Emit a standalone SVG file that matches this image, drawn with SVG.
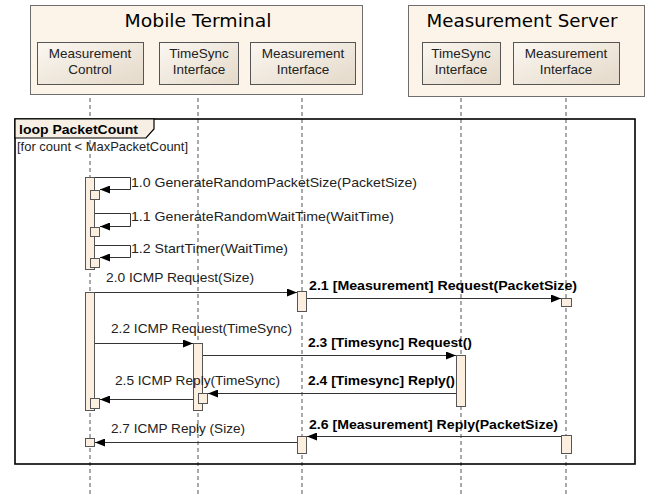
<svg xmlns="http://www.w3.org/2000/svg" width="647" height="495" viewBox="0 0 647 495">
<defs>
<linearGradient id="boxg" x1="0" y1="0" x2="1" y2="1">
<stop offset="0" stop-color="#fbf7f1"/>
<stop offset="1" stop-color="#e4d9c9"/>
</linearGradient>
<marker id="ah" viewBox="0 0 10 8" refX="10" refY="4" markerWidth="10" markerHeight="8" markerUnits="userSpaceOnUse" orient="auto">
<path d="M0,0 L10,4 L0,8 Z" fill="#000"/>
</marker>
</defs>
<style>
.cont{fill:#fcf4e8;stroke:#6e6e6e;stroke-width:1}
.box{fill:url(#boxg);stroke:#555;stroke-width:1}
.life{stroke:#555;stroke-width:1;stroke-dasharray:4 3;fill:none}
.act{fill:#fcefe0;stroke:#555;stroke-width:1}
.msg{stroke:#333;stroke-width:1;fill:none}
.arr{marker-end:url(#ah)}
.t{font-family:"Liberation Sans",Arial,sans-serif;font-size:13.5px;fill:#222}
.tb{font-family:"Liberation Sans",Arial,sans-serif;font-size:13.5px;font-weight:bold;fill:#000}
.h{font-family:"DejaVu Sans",Verdana,sans-serif;font-size:17.5px;fill:#000}
.c{text-anchor:middle}
</style>
<rect width="647" height="495" fill="#fff"/>

<g id="lifelines">
<line class="life" x1="90" y1="84" x2="90" y2="495"/>
<line class="life" x1="198" y1="84" x2="198" y2="495"/>
<line class="life" x1="302" y1="84" x2="302" y2="495"/>
<line class="life" x1="461" y1="84" x2="461" y2="495"/>
<line class="life" x1="566" y1="84" x2="566" y2="495"/>
</g>

<g id="mobile-terminal">
<rect class="cont" x="30.5" y="5.5" width="332" height="89"/>
<text class="h c" x="198" y="27" textLength="147" lengthAdjust="spacingAndGlyphs">Mobile Terminal</text>
</g>
<g id="measurement-server">
<rect class="cont" x="408.5" y="5.5" width="236" height="91"/>
<text class="h c" x="522" y="27" textLength="191" lengthAdjust="spacingAndGlyphs">Measurement Server</text>
</g>

<g id="mt-measurement-control">
<rect class="box" x="37.5" y="42.5" width="106" height="42"/>
<text class="t c" x="90" y="58">Measurement</text>
<text class="t c" x="90" y="74">Control</text>
</g>
<g id="mt-timesync-interface">
<rect class="box" x="159.5" y="42.5" width="79" height="42"/>
<text class="t c" x="199" y="58">TimeSync</text>
<text class="t c" x="199" y="74">Interface</text>
</g>
<g id="mt-measurement-interface">
<rect class="box" x="250.5" y="42.5" width="105" height="42"/>
<text class="t c" x="303" y="58">Measurement</text>
<text class="t c" x="303" y="74">Interface</text>
</g>
<g id="ms-timesync-interface">
<rect class="box" x="422.5" y="42.5" width="78" height="42"/>
<text class="t c" x="461" y="58">TimeSync</text>
<text class="t c" x="461" y="74">Interface</text>
</g>
<g id="ms-measurement-interface">
<rect class="box" x="513.5" y="42.5" width="106" height="42"/>
<text class="t c" x="566" y="58">Measurement</text>
<text class="t c" x="566" y="74">Interface</text>
</g>

<g id="loop-frame">
<rect x="15" y="119" width="620" height="345" fill="none" stroke="#000" stroke-width="1.6"/>
<path d="M15,119 L154,119 L154,129 L146,138 L15,138 Z" fill="#f7efe3" stroke="#000" stroke-width="1.2"/>
<text class="tb" x="19" y="134" textLength="119" lengthAdjust="spacingAndGlyphs">loop PacketCount</text>
<text class="t" x="17" y="151" textLength="171" lengthAdjust="spacingAndGlyphs">[for count &lt; MaxPacketCount]</text>
</g>

<g id="activations">
<rect class="act" x="85.5" y="177.5" width="9" height="92"/>
<rect class="act" x="90.5" y="190.5" width="9" height="9"/>
<rect class="act" x="90.5" y="227.5" width="9" height="9"/>
<rect class="act" x="90.5" y="258.5" width="9" height="9"/>
<rect class="act" x="85.5" y="292.5" width="9" height="118"/>
<rect class="act" x="90.5" y="398.5" width="9" height="10"/>
<rect class="act" x="297.5" y="291.5" width="9" height="20"/>
<rect class="act" x="561.5" y="298.5" width="10" height="8"/>
<rect class="act" x="193.5" y="343.5" width="9" height="67"/>
<rect class="act" x="456.5" y="355.5" width="9" height="51"/>
<rect class="act" x="198.5" y="393.5" width="9" height="10"/>
<rect class="act" x="297.5" y="436.5" width="9" height="17"/>
<rect class="act" x="561.5" y="435.5" width="10" height="18"/>
<rect class="act" x="85.5" y="438.5" width="9" height="8"/>
</g>

<g id="connectors">
<path class="msg arr" d="M95,177.5 H130.5 V189.5 H100"/>
<path class="msg arr" d="M95,213.5 H130.5 V226.5 H100"/>
<path class="msg arr" d="M95,245.5 H130.5 V257.5 H100"/>
<line class="msg arr" x1="95" y1="292.5" x2="297" y2="292.5"/>
<line class="msg arr" x1="307" y1="298.5" x2="561" y2="298.5"/>
<line class="msg arr" x1="95" y1="343.5" x2="193" y2="343.5"/>
<line class="msg arr" x1="203" y1="355.5" x2="456" y2="355.5"/>
<line class="msg arr" x1="456" y1="393.5" x2="208" y2="393.5"/>
<line class="msg arr" x1="193" y1="399.5" x2="100" y2="399.5"/>
<line class="msg arr" x1="561" y1="436.5" x2="307" y2="436.5"/>
<line class="msg arr" x1="297" y1="442.5" x2="95" y2="442.5"/>
</g>

<g id="labels">
<text class="t" x="131" y="187" textLength="286" lengthAdjust="spacingAndGlyphs">1.0 GenerateRandomPacketSize(PacketSize)</text>
<text class="t" x="131" y="221" textLength="263" lengthAdjust="spacingAndGlyphs">1.1 GenerateRandomWaitTime(WaitTime)</text>
<text class="t" x="131" y="253" textLength="157" lengthAdjust="spacingAndGlyphs">1.2 StartTimer(WaitTime)</text>
<text class="t" x="106" y="282" textLength="148" lengthAdjust="spacingAndGlyphs">2.0 ICMP Request(Size)</text>
<text class="tb" x="309" y="290" textLength="268" lengthAdjust="spacingAndGlyphs">2.1 [Measurement] Request(PacketSize)</text>
<text class="t" x="111" y="333" textLength="181" lengthAdjust="spacingAndGlyphs">2.2 ICMP Request(TimeSync)</text>
<text class="tb" x="308" y="347" textLength="164" lengthAdjust="spacingAndGlyphs">2.3 [Timesync] Request()</text>
<text class="t" x="115" y="385" textLength="165" lengthAdjust="spacingAndGlyphs">2.5 ICMP Reply(TimeSync)</text>
<text class="tb" x="308" y="385" textLength="147" lengthAdjust="spacingAndGlyphs">2.4 [Timesync] Reply()</text>
<text class="tb" x="309" y="429" textLength="249" lengthAdjust="spacingAndGlyphs">2.6 [Measurement] Reply(PacketSize)</text>
<text class="t" x="111" y="433" textLength="134" lengthAdjust="spacingAndGlyphs">2.7 ICMP Reply (Size)</text>
</g>
</svg>
